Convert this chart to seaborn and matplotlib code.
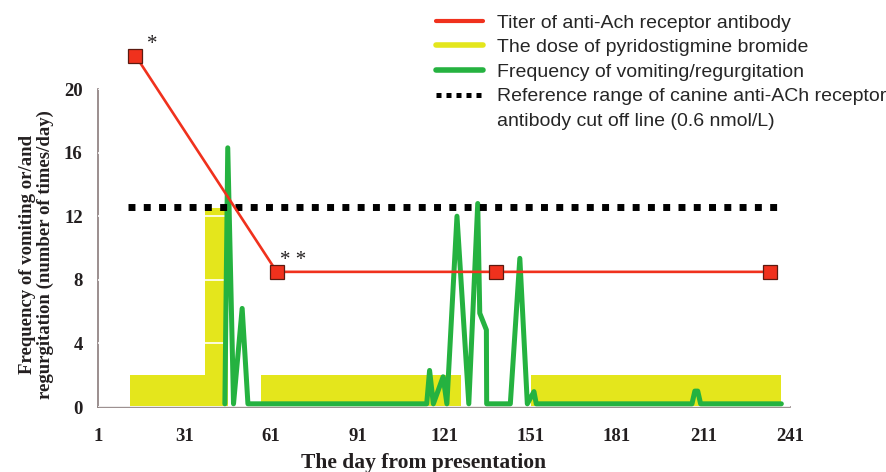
import matplotlib
matplotlib.use("Agg")
import matplotlib.pyplot as plt
from matplotlib.lines import Line2D
import seaborn as sns

# titer of anti-AChR antibody (red squares)
titer_days = [14, 63, 139, 234]
titer_vals = [22.1, 8.5, 8.5, 8.5]
titer_marks = ["*", "* *", "", ""]

# pyridostigmine dose, step edges (value holds until next edge)
dose_days = [12, 38.2, 46, 57.5, 127, 151, 238]
dose_vals = [2, 12.5, 0, 2, 0, 2, 2]

# vomiting / regurgitation frequency
vomit_days = [45, 46, 48, 51, 53, 115, 116, 117.3, 120.7, 122, 125.5, 129.6,
              132.7, 133.4, 135.7, 135.8, 138, 144, 147.3, 149.9, 152.2, 153,
              207, 208, 209, 210, 238]
vomit_vals = [0.2, 16.3, 0.2, 6.2, 0.2, 0.2, 2.3, 0.2, 1.9, 0.2, 12.0, 0.2,
              12.8, 5.9, 4.85, 0.2, 0.2, 0.2, 9.35, 0.2, 0.97, 0.2,
              0.2, 1.0, 1.0, 0.2, 0.2]

# cut off line
cutoff_days = [11.4, 238.8]
cutoff_vals = [12.6, 12.6]

x_ticks = [1, 31, 61, 91, 121, 151, 181, 211, 241]
y_ticks = [0, 4, 8, 12, 16, 20]

legend_labels = [
    "Titer of anti-Ach receptor antibody",
    "The dose of pyridostigmine bromide",
    "Frequency of vomiting/regurgitation",
    "Reference range of canine anti-ACh receptor",
    "antibody cut off line (0.6 nmol/L)",
]

RED = "#f0311d"
YELLOW = "#e4e61c"
GREEN = "#25b240"
AXIS = "#8a7c7c"
INK = "#231f20"

sns.set_style("white")
plt.rcParams["font.family"] = ["Liberation Serif", "DejaVu Serif"]

fig = plt.figure(figsize=(8.86, 4.72), dpi=100)
ax = fig.add_axes([98 / 886, 1 - 407 / 472, (790 - 98) / 886, (407 - 89) / 472])

# yellow dose area
ax.fill_between(dose_days, 0, dose_vals, step="post", color=YELLOW,
                linewidth=0, zorder=1)

# white grid shows only over the yellow block
ax.set_axisbelow(False)
ax.yaxis.grid(True, color="white", linewidth=1.2)
ax.xaxis.grid(False)

sns.lineplot(x=vomit_days, y=vomit_vals, color=GREEN, linewidth=3.6,
             sort=False, estimator=None, ax=ax, zorder=3)

sns.lineplot(x=cutoff_days, y=cutoff_vals, color="black", linewidth=5,
             linestyle=(0, (1, 1.2)), ax=ax, zorder=3)

sns.lineplot(x=titer_days, y=titer_vals, color=RED, linewidth=1.9,
             marker="s", markersize=10.5, markerfacecolor=RED,
             markeredgecolor="#5b1a10", markeredgewidth=0.9,
             sort=False, estimator=None, ax=ax, zorder=4, clip_on=False)

for d, v, m in zip(titer_days, titer_vals, titer_marks):
    if m:
        ax.annotate(m, (d, v), xytext=(12, 8), textcoords="offset points",
                    ha="center", va="center", fontsize=15, color=INK,
                    annotation_clip=False)

ax.set_xlim(1, 241)
ax.set_ylim(0, 20)
ax.set_xticks(x_ticks)
ax.set_yticks(y_ticks)

for side in ["top", "right"]:
    ax.spines[side].set_visible(False)
for side in ["left", "bottom"]:
    ax.spines[side].set_color(AXIS)
    ax.spines[side].set_linewidth(1.2)

ax.tick_params(axis="both", direction="inout", length=6, width=1.2,
               color=AXIS, labelcolor=INK, labelsize=13.5)
ax.tick_params(axis="y", pad=8)
ax.tick_params(axis="x", pad=12)
for lab in ax.get_xticklabels() + ax.get_yticklabels():
    lab.set_fontweight("bold")

ax.set_xlabel("The day from presentation", fontsize=15.5, fontweight="bold",
              color=INK)
ax.xaxis.set_label_coords(0.47, -0.145)
ax.set_ylabel("Frequency of vomiting or/and\nregurgitation (number of times/day)",
              fontsize=13.5, fontweight="bold", color=INK, linespacing=1.0)
ax.yaxis.set_label_coords(-0.064, 0.48)

handles = [
    Line2D([], [], color=RED, linewidth=3),
    Line2D([], [], color=YELLOW, linewidth=4),
    Line2D([], [], color=GREEN, linewidth=4),
    Line2D([], [], color="black", linewidth=3.6, linestyle=(0, (1, 1))),
    Line2D([], [], color="none"),
]
fig.legend(handles, legend_labels, loc="upper left",
           bbox_to_anchor=(432 / 886, 1 - 10 / 472), frameon=False,
           prop={"family": ["Liberation Sans", "DejaVu Sans"], "size": 14},
           handlelength=2.4, handletextpad=0.75, labelspacing=0.36,
           borderaxespad=0, borderpad=0.2)

fig.savefig("out.png", dpi=100)
